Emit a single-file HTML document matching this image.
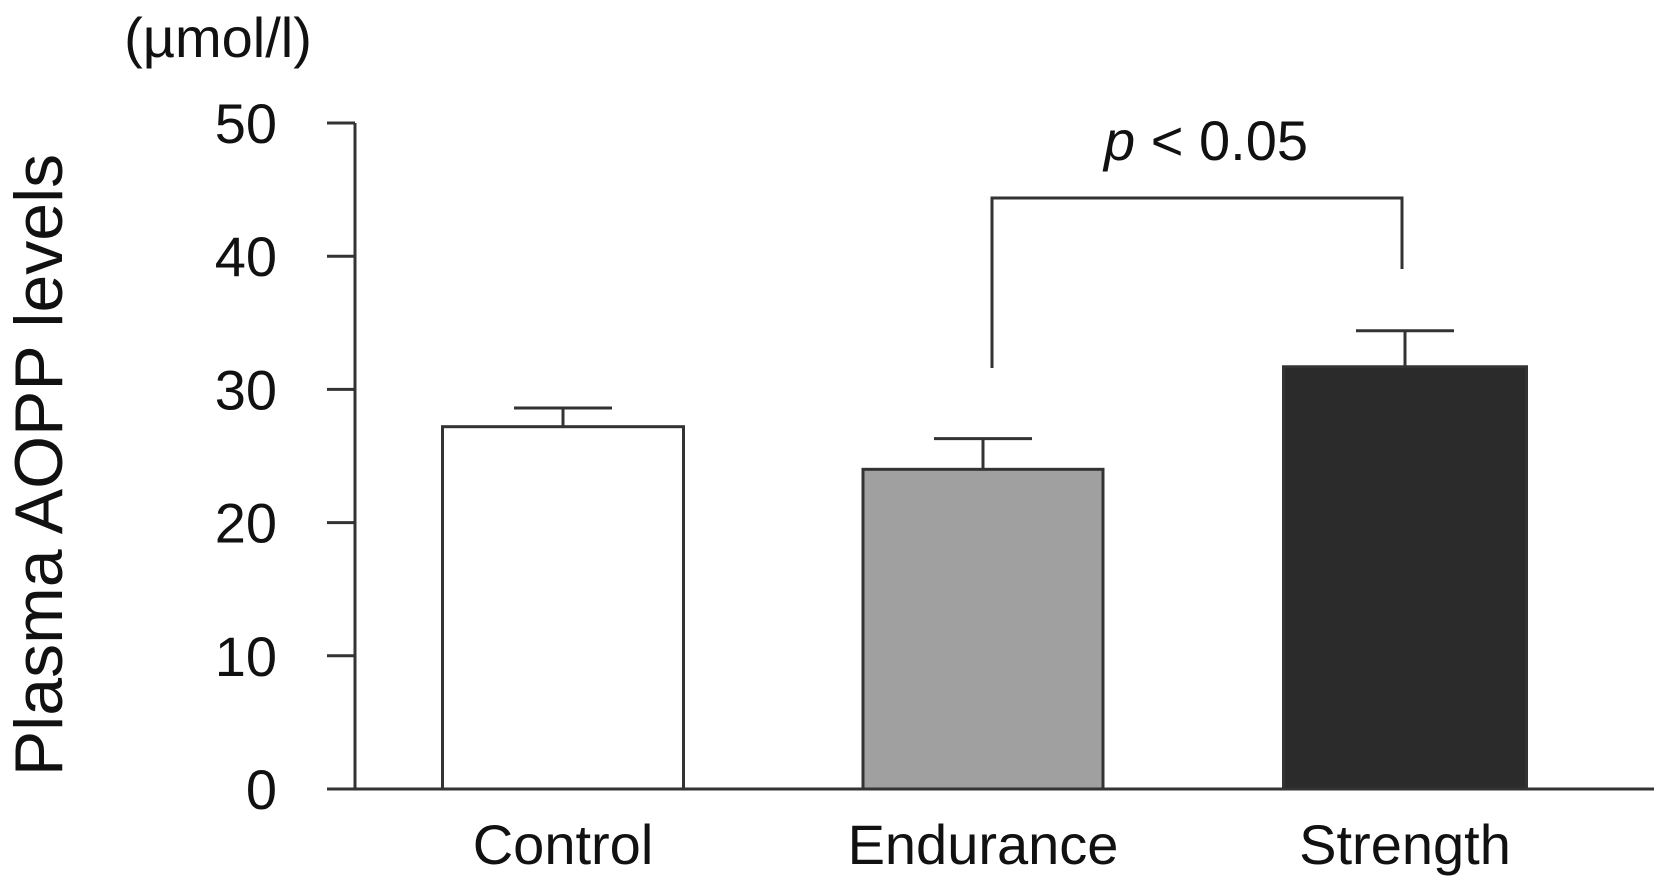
<!DOCTYPE html>
<html><head><meta charset="utf-8"><style>
html,body{margin:0;padding:0;background:#fff;}
svg{display:block;font-family:"Liberation Sans",Arial,sans-serif;}
</style></head><body>
<svg id="chart" width="1654" height="881" viewBox="0 0 1654 881">
<text x="218" y="57" font-size="56" text-anchor="middle" fill="#111">(µmol/l)</text>
<text transform="translate(62,465) rotate(-90)" font-size="68" text-anchor="middle" fill="#111">Plasma AOPP levels</text>
<g id="axes"></g><g id="bars"></g>
<g stroke="#333" stroke-width="3" fill="none">
<polyline points="992,368 992,198 1402,198 1402,269"/>
</g>
<text x="1206" y="160" font-size="56" text-anchor="middle" fill="#111"><tspan font-style="italic">p</tspan> &lt; 0.05</text>
</svg>
<script>
const categories=["Control","Endurance","Strength"];
const values=[27.2,24.0,31.7];
const errors=[1.4,2.3,2.7];
const ticks=[0,10,20,30,40,50];
const fills=["#ffffff","#a0a0a0","#2b2b2b"];
const NS="http://www.w3.org/2000/svg";
const y0=789,y50=123;
function yScale(v){return y0-(y0-y50)*v/50;}
const centers=[563,983,1405],bw=[241,240,243];
const axes=document.getElementById('axes'),bars=document.getElementById('bars');
function mk(t,a,p){const e=document.createElementNS(NS,t);for(const k in a)e.setAttribute(k,a[k]);p.appendChild(e);return e;}
let l=mk('line',{x1:355,y1:yScale(50),x2:355,y2:y0,stroke:'#333','stroke-width':3},axes);


l=mk('line',{x1:327,y1:y0,x2:1654,y2:y0,stroke:'#333','stroke-width':3},axes);


ticks.forEach(t=>{
 const tk=mk('line',{x1:327,y1:yScale(t),x2:355,y2:yScale(t),stroke:'#333','stroke-width':3},axes);
 
 
 const tx=mk('text',{x:277,y:yScale(t)+20,'font-size':56,'text-anchor':'end',fill:'#111'},axes);
 tx.textContent=t;
 
 
});
categories.forEach((c,i)=>{
 const x=centers[i]-bw[i]/2,yt=yScale(values[i]),ye=yScale(values[i]+errors[i]);
 const eb=mk('line',{x1:centers[i],y1:ye,x2:centers[i],y2:yt,stroke:'#333','stroke-width':3},bars);
 
 
 const cap=mk('line',{x1:centers[i]-49,y1:ye,x2:centers[i]+49,y2:ye,stroke:'#333','stroke-width':3},bars);
 
 
 const r=mk('rect',{x:x,y:yt,width:bw[i],height:y0-yt,fill:fills[i],stroke:'#333','stroke-width':3},bars);
 
 
 const tx=mk('text',{x:centers[i],y:864,'font-size':56,'text-anchor':'middle',fill:'#111'},bars);
 tx.textContent=c;
 
 
});
</script>
</body></html>
